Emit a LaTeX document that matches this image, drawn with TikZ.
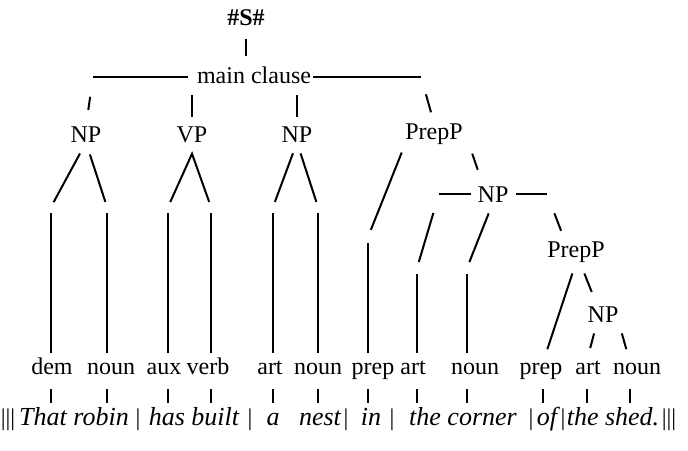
\documentclass[tikz,border=0pt]{standalone}
\usepackage{fontspec}
\setmainfont{Liberation Serif}
\usepackage{tikz}

\tikzset{
  lab/.style={inner sep=0pt, anchor=base, font=\fontsize{12}{14}\selectfont},
  word/.style={lab, font=\fontsize{13}{15}\selectfont\itshape},
  br/.style={line width=1pt},
}

\begin{document}
\begin{tikzpicture}[x=0.5pt, y=-0.5pt]
\useasboundingbox (0,0) rectangle (688,450);

%% phrase labels
\node[lab] (s)   at (246,25)  {\textbf{\#S\#}};
\node[lab] (mc)  at (254,83)  {main clause};
\node[lab] (np1) at (86,142)  {NP};
\node[lab] (vp)  at (192,142) {VP};
\node[lab] (np2) at (297,142) {NP};
\node[lab] (pp1) at (434,139) {PrepP};
\node[lab] (np3) at (493,202) {NP};
\node[lab] (pp2) at (576,257) {PrepP};
\node[lab] (np4) at (603,322) {NP};

%% word classes
\node[lab] (dem)  at (52,374)  {dem};
\node[lab] (n1)   at (111,374) {noun};
\node[lab] (aux)  at (164,374) {aux};
\node[lab] (verb) at (208,374) {verb};
\node[lab] (a1)   at (270,374) {art};
\node[lab] (n2)   at (318,374) {noun};
\node[lab] (p1)   at (373,374) {prep};
\node[lab] (a2)   at (413,374) {art};
\node[lab] (n3)   at (475,374) {noun};
\node[lab] (p2)   at (541,374) {prep};
\node[lab] (a3)   at (588,374) {art};
\node[lab] (n4)   at (637,374) {noun};

%% words
\node[lab]  (b1)      at (8,425)   {|||};
\node[word] (wrobin)  at (74,425)  {That robin};
\node[lab]  (b2)      at (138,425) {|};
\node[word] (wbuilt)  at (194,425) {has built};
\node[lab]  (b3)      at (250,425) {|};
\node[word] (wa)      at (273,425) {a};
\node[word] (wnest)   at (320,425) {nest};
\node[lab]  (b4)      at (346,425) {|};
\node[word] (win)     at (371,425) {in};
\node[lab]  (b5)      at (392,425) {|};
\node[word] (wcorner) at (463,425) {the corner};
\node[lab]  (b6)      at (531,425) {|};
\node[word] (wof)     at (547,425) {of};
\node[lab]  (b7)      at (563,425) {|};
\node[word] (wshed)   at (613,425) {the shed.};
\node[lab]  (b8)      at (669,425) {|||};

%% bend points and rows
\coordinate (kdem) at (51,207);
\coordinate (kn1)  at (107,207);
\coordinate (kaux) at (168,207);
\coordinate (kverb) at (211,207);
\coordinate (ka1)  at (273,207);
\coordinate (kn2)  at (318,207);
\coordinate (kp1)  at (368,237);
\coordinate (ka2)  at (417,268);
\coordinate (kn3)  at (467,268);
\coordinate (kp2)  at (543,268);
\coordinate (ka3)  at (587,268);
\coordinate (kn4)  at (630,268);
\coordinate (mcl) at (93,77);
\coordinate (mcr) at (421,77);
\coordinate (n3l) at (439,194);
\coordinate (n3r) at (547,194);
\coordinate (vpa) at ([yshift=-5.5pt]vp.south);
\coordinate (low) at (0,353);
\coordinate (tt) at (0,389);
\coordinate (tb) at (0,403);

%% top
\draw[br, shorten <=6.5pt, shorten >=4.8pt] (s.south) -- (s.south |- mc.north);
\draw[br, shorten >=4.3pt] (mcl) -- (mcl -| mc.west);
\draw[br, shorten <=1pt] (mcl -| mc.east) -- (mcr);
\draw[br, shorten <=10pt, shorten >=8pt] (mcl) -- (np1.north);
\draw[br, shorten <=9pt, shorten >=4.5pt] (vp |- mcl) -- (vp.north);
\draw[br, shorten <=9pt, shorten >=4.5pt] (np2 |- mcl) -- (np2.north);
\draw[br, shorten <=9pt, shorten >=5.5pt] (mcr) -- (pp1.north);

%% NP VP NP
\draw[br, shorten <=6.3pt, shorten >=2.7pt] (np1.south) -- (kdem);
\draw[br, shorten <=6.3pt, shorten >=2.7pt] (np1.south) -- (kn1);
\draw[br, shorten <=2.7pt, shorten >=2.7pt] (kaux) -- (vpa) -- (kverb);
\draw[br, shorten <=5.8pt, shorten >=2.7pt] (np2.south) -- (ka1);
\draw[br, shorten <=5.8pt, shorten >=2.7pt] (np2.south) -- (kn2);

%% PrepP and inner NP
\draw[br, shorten <=4.3pt, shorten >=3.8pt] (pp1.south west) -- (kp1);
\draw[br, shorten <=4.8pt, shorten >=8.5pt] ([xshift=3pt]pp1.south east) -- ([xshift=3pt]np3.north west);
\draw[br, shorten >=3pt] (n3l) -- (n3l -| np3.west);
\draw[br, shorten <=3.5pt] (n3r -| np3.east) -- (n3r);
\draw[br, shorten <=9.9pt, shorten >=3.1pt] (n3l) -- (ka2);
\draw[br, shorten <=5.9pt, shorten >=3.2pt] (np3.south) -- (kn3);
\draw[br, shorten <=10.3pt, shorten >=5.4pt] (n3r) -- ([xshift=9pt]pp2.north west);
\draw[br, shorten <=5.8pt, shorten >=6.9pt] (pp2.south) -- (kp2 |- p2.north);
\draw[br, shorten <=5.9pt, shorten >=7.5pt] ([xshift=2pt]pp2.south) -- ([xshift=5pt]np4.north west);
\draw[br, shorten <=5.7pt, shorten >=6.2pt] ([xshift=-3pt]np4.south) -- (ka3 |- a3.north);
\draw[br, shorten <=5.7pt, shorten >=6.8pt] (np4.south east) -- (kn4 |- n4.north);

%% long stems
\draw[br, shorten <=3pt] (kdem) -- (kdem |- low);
\draw[br, shorten <=3pt] (kn1) -- (kn1 |- low);
\draw[br, shorten <=3pt] (kaux) -- (kaux |- low);
\draw[br, shorten <=3pt] (kverb) -- (kverb |- low);
\draw[br, shorten <=3pt] (ka1) -- (ka1 |- low);
\draw[br, shorten <=3pt] (kn2) -- (kn2 |- low);
\draw[br, shorten <=3pt] (kp1) -- (kp1 |- low);
\draw[br, shorten <=3pt] (ka2) -- (ka2 |- low);
\draw[br, shorten <=3pt] (kn3) -- (kn3 |- low);

%% ticks
\draw[br] (kdem |- tt) -- (kdem |- tb) (kn1 |- tt) -- (kn1 |- tb)
  (kaux |- tt) -- (kaux |- tb) (kverb |- tt) -- (kverb |- tb)
  (ka1 |- tt) -- (ka1 |- tb) (kn2 |- tt) -- (kn2 |- tb)
  (kp1 |- tt) -- (kp1 |- tb) (ka2 |- tt) -- (ka2 |- tb)
  (kn3 |- tt) -- (kn3 |- tb) (kp2 |- tt) -- (kp2 |- tb)
  (ka3 |- tt) -- (ka3 |- tb) (kn4 |- tt) -- (kn4 |- tb);

\end{tikzpicture}
\end{document}
